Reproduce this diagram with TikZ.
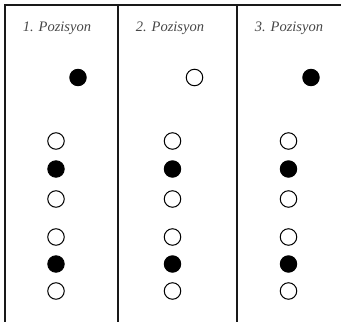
\documentclass[tikz,border=0pt]{standalone}
\usepackage{fontspec}
\setmainfont{Liberation Serif}
\begin{document}
\begin{tikzpicture}[x=1pt,y=-1pt,
  frame/.style={line width=2pt, black!90},
  head/.style={font=\itshape\fontsize{14.5}{16}\selectfont, text=black!72, inner sep=0pt},
  full/.style={circle, fill=black, draw=black, line width=0.9pt, minimum size=16.5pt, inner sep=0pt},
  empty/.style={circle, fill=white, draw=black, line width=1pt, minimum size=16.5pt, inner sep=0pt}]
  \useasboundingbox (0,0) rectangle (341,322);
  % frame of the three columns
  \coordinate (tl) at (4.5,5);
  \coordinate (tr) at (341,5);
  \coordinate (bl) at (4.5,322);
  \coordinate (m1t) at (117.5,5);
  \coordinate (m1b) at (117.5,322);
  \coordinate (m2t) at (237,5);
  \coordinate (m2b) at (237,322);
  \draw[frame] (bl) -- (tl) -- (tr);
  \draw[frame] (m1t) -- (m1b);
  \draw[frame] (m2t) -- (m2b);
  % column headings
  \node[head] (h1) at (57,28) {1. Pozisyon};
  \node[head] (h2) at (170,28) {2. Pozisyon};
  \node[head] (h3) at (289,28) {3. Pozisyon};
  % single marker per column
  \node[full]  (t1) at (78,77.5) {};
  \node[empty] (t2) at (194.5,77.5) {};
  \node[full]  (t3) at (311,77.5) {};
  % column 1
  \node[empty] (a1) at (56,141) {};
  \node[full]  (a2) at (56,169) {};
  \node[empty] (a3) at (56,199) {};
  \node[empty] (a4) at (56,237) {};
  \node[full]  (a5) at (56,264) {};
  \node[empty] (a6) at (56,291) {};
  % column 2
  \node[empty] (b1) at (172.5,141) {};
  \node[full]  (b2) at (172.5,169) {};
  \node[empty] (b3) at (172.5,199) {};
  \node[empty] (b4) at (172.5,237) {};
  \node[full]  (b5) at (172.5,264) {};
  \node[empty] (b6) at (172.5,291) {};
  % column 3
  \node[empty] (c1) at (288.5,141) {};
  \node[full]  (c2) at (288.5,169) {};
  \node[empty] (c3) at (288.5,199) {};
  \node[empty] (c4) at (288.5,237) {};
  \node[full]  (c5) at (288.5,264) {};
  \node[empty] (c6) at (288.5,291) {};
\end{tikzpicture}
\end{document}
